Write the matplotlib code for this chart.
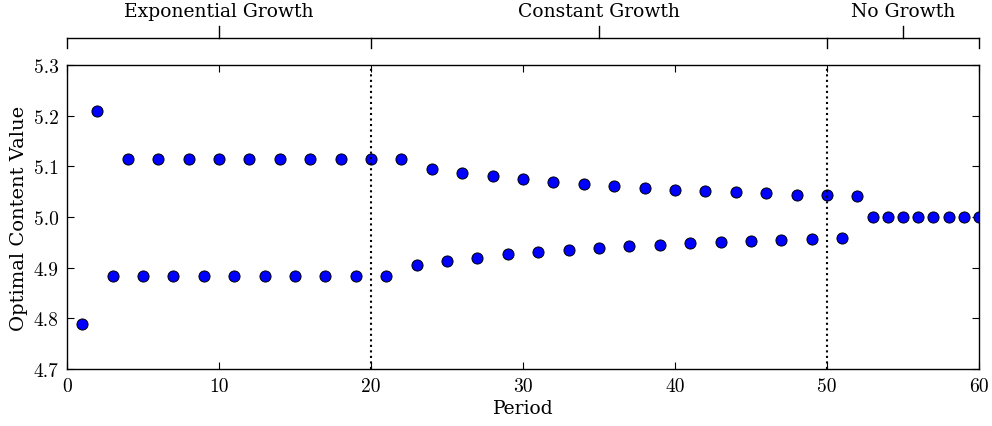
import numpy as np
import matplotlib
matplotlib.use("Agg")
import matplotlib.pyplot as plt
import matplotlib.transforms as mtransforms

# === Data ===
period = list(range(1, 61))
content = [
    4.789, 5.209, 4.884, 5.115, 4.884, 5.115, 4.884, 5.115, 4.884, 5.115,
    4.884, 5.115, 4.884, 5.115, 4.884, 5.115, 4.884, 5.115, 4.884, 5.115,
    4.884, 5.115, 4.905, 5.095, 4.913, 5.087, 4.920, 5.080, 4.926, 5.074,
    4.930, 5.069, 4.935, 5.065, 4.939, 5.061, 4.942, 5.057, 4.945, 5.054,
    4.948, 5.051, 4.951, 5.049, 4.953, 5.047, 4.955, 5.044, 4.957, 5.043,
    4.959, 5.041, 5.000, 5.000, 5.000, 5.000, 5.000, 5.000, 5.000, 5.000,
]
phase_bounds = [0, 20, 50, 60]
phase_names = ["Exponential Growth", "Constant Growth", "No Growth"]
xticks = [0, 10, 20, 30, 40, 50, 60]
yticks = [4.7, 4.8, 4.9, 5.0, 5.1, 5.2, 5.3]

LABEL_FONT = "DejaVu Serif"
TICK_FONT = "cmr10"

fig = plt.figure(figsize=(9.92, 4.27), dpi=100)
ax = fig.add_axes([0.0675, 0.1335, 0.9195, 0.712])

ax.plot(period, content, linestyle="none", marker="o", markersize=8,
        markerfacecolor="#0000ff", markeredgecolor="black", markeredgewidth=0.7)

# phase separators
for b in phase_bounds[1:-1]:
    ax.axvline(b, color="black", linestyle=":", linewidth=1.5)

ax.set_xlim(0, 60)
ax.set_ylim(4.7, 5.3)
ax.set_xticks(xticks, [str(v) for v in xticks], fontfamily=TICK_FONT, fontsize=14)
ax.set_yticks(yticks, ["%.1f" % v for v in yticks], fontfamily=TICK_FONT, fontsize=14)
ax.tick_params(direction="in", length=5, width=0.8, top=True, right=True, pad=6)
for s in ax.spines.values():
    s.set_linewidth(1.0)

ax.set_xlabel("Period", fontfamily=LABEL_FONT, fontsize=13.5, labelpad=3)
ax.set_ylabel("Optimal Content Value", fontfamily=LABEL_FONT, fontsize=14, labelpad=4)

# === Phase brackets above the axes ===
trans = mtransforms.blended_transform_factory(ax.transData, ax.transAxes)
y_line, y_end, y_mid, y_txt = 1.089, 1.056, 1.128, 1.160
ax.plot([phase_bounds[0], phase_bounds[-1]], [y_line, y_line], color="black",
        linewidth=1.0, transform=trans, clip_on=False)
for b in phase_bounds:
    ax.plot([b, b], [y_line, y_end], color="black", linewidth=1.0,
            transform=trans, clip_on=False)
for lo, hi, name in zip(phase_bounds[:-1], phase_bounds[1:], phase_names):
    mid = (lo + hi) / 2
    ax.plot([mid, mid], [y_line, y_mid], color="black", linewidth=1.0,
            transform=trans, clip_on=False)
    ax.text(mid, y_txt, name, transform=trans, ha="center", va="baseline",
            fontfamily=LABEL_FONT, fontsize=13.5)

fig.savefig("out.png", dpi=100)
